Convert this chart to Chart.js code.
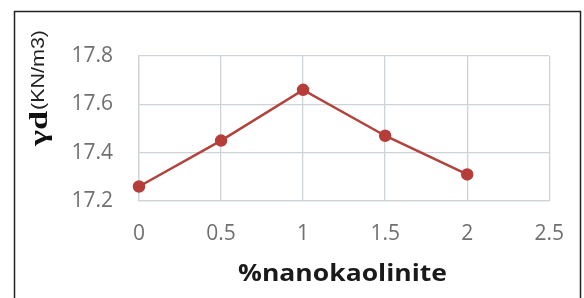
<!DOCTYPE html>
<html>
<head>
<meta charset="utf-8">
<script src="https://cdn.jsdelivr.net/npm/chart.js@4/dist/chart.umd.min.js"></script>
<style>
html,body{margin:0;padding:0;background:#fff;}
#wrap{width:584px;height:298px;position:relative;}
</style>
</head>
<body>
<div id="wrap"><canvas id="c" width="584" height="298"></canvas></div>
<script>
const xValues = [0, 0.5, 1, 1.5, 2];
const yValues = [17.26, 17.45, 17.66, 17.47, 17.31];
const xTitle = "%nanokaolinite";
const yTitleMain = "γd";
const yTitleUnit = "(KN/m3)";

const points = xValues.map((x, i) => ({x: x, y: yValues[i]}));

const decor = {
  id: 'decor',
  beforeDraw(chart) {
    const ctx = chart.ctx;
    ctx.save();
    ctx.fillStyle = '#fff';
    ctx.fillRect(0, 0, chart.width, chart.height);
    ctx.strokeStyle = '#222';
    ctx.lineWidth = 1.5;
    ctx.beginPath();
    ctx.moveTo(14.5, 310);
    ctx.lineTo(14.5, 11.5);
    ctx.lineTo(580.5, 11.5);
    ctx.lineTo(580.5, 310);
    ctx.stroke();
    ctx.restore();
  },
  afterDraw(chart) {
    const ctx = chart.ctx;
    ctx.save();
    ctx.fillStyle = '#1a1a1a';
    ctx.font = 'bold 23px "Open Sans"';
    ctx.textBaseline = 'alphabetic';
    ctx.textAlign = 'left';
    let w = ctx.measureText(xTitle).width;
    ctx.translate(238, 281);
    ctx.scale(209 / w, 1);
    ctx.fillText(xTitle, 0, 0);
    ctx.restore();

    ctx.save();
    ctx.translate(47, 146);
    ctx.rotate(-Math.PI / 2);
    ctx.fillStyle = '#111';
    ctx.textBaseline = 'alphabetic';
    ctx.textAlign = 'left';
    ctx.font = 'bold 25px "Liberation Serif"';
    let w1 = ctx.measureText(yTitleMain).width;
    ctx.save();
    ctx.scale(35 / w1, 1);
    ctx.fillText(yTitleMain, 0, 0);
    ctx.restore();
    ctx.font = '18px "Liberation Sans"';
    ctx.fillStyle = '#222';
    let w2 = ctx.measureText(yTitleUnit).width;
    ctx.save();
    ctx.translate(36, -3);
    ctx.scale(80 / w2, 1);
    ctx.fillText(yTitleUnit, 0, 0);
    ctx.restore();
    ctx.restore();
  }
};

new Chart(document.getElementById('c'), {
  type: 'line',
  data: {
    datasets: [{
      data: points,
      borderColor: 'rgb(178,66,60)',
      backgroundColor: 'rgb(182,62,58)',
      pointBackgroundColor: 'rgb(182,62,58)',
      pointBorderColor: 'rgb(182,62,58)',
      borderWidth: 2.5,
      pointRadius: 5,
      tension: 0,
      clip: false
    }]
  },
  options: {
    responsive: false,
    animation: false,
    devicePixelRatio: 1,
    layout: {padding: {top: 56, right: 34, bottom: 0, left: 0}},
    plugins: {legend: {display: false}, tooltip: {enabled: false}},
    scales: {
      x: {
        type: 'linear',
        min: 0, max: 2.5,
        ticks: {stepSize: 0.5, color: '#707070', font: {family: 'Open Sans', size: 21}, padding: 20, maxRotation: 0,
          callback: v => String(Math.round(v * 10) / 10)},
        grid: {color: 'rgb(206,211,215)', lineWidth: 1.3, tickLength: 0, drawTicks: false},
        border: {color: 'rgb(206,211,215)', width: 1.3},
        afterFit(s) { s.height = 97; }
      },
      y: {
        min: 17.2, max: 17.8,
        ticks: {stepSize: 0.2, color: '#707070', font: {family: 'Open Sans', size: 21}, padding: 26,
          callback: v => v.toFixed(1)},
        grid: {color: 'rgb(206,211,215)', lineWidth: 1.3, tickLength: 0, drawTicks: false},
        border: {color: 'rgb(206,211,215)', width: 1.3},
        afterFit(s) { s.width = 139; }
      }
    }
  },
  plugins: [decor]
});
</script>
</body>
</html>
